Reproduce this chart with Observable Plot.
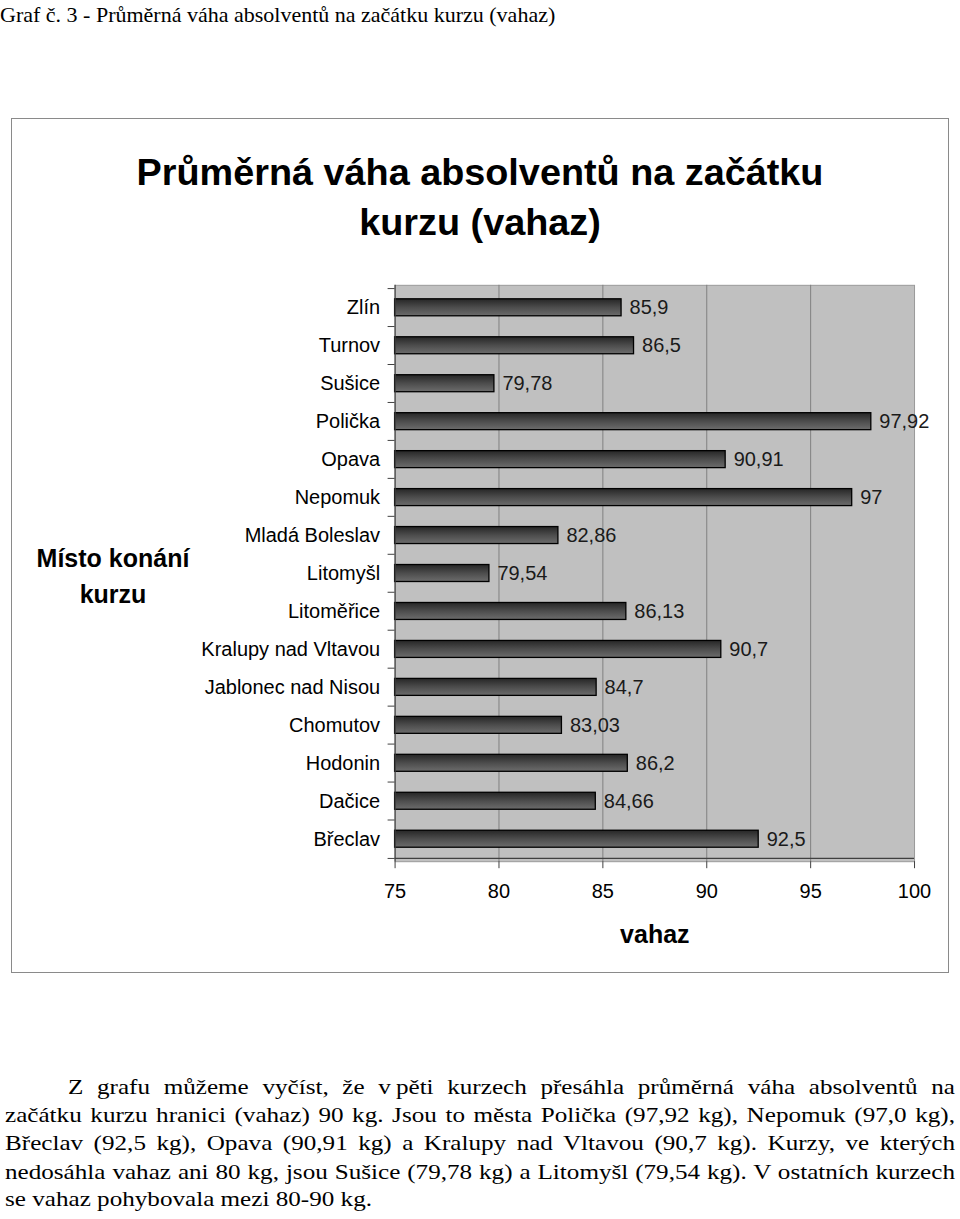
<!DOCTYPE html>
<html>
<head>
<meta charset="utf-8">
<script src="https://cdn.jsdelivr.net/npm/d3@7"></script>
<script src="https://cdn.jsdelivr.net/npm/@observablehq/plot@0.6"></script>
<style>
  html, body { margin: 0; padding: 0; background: #fff; }
  body { width: 960px; height: 1219px; position: relative; overflow: hidden; }
  #heading { position: absolute; left: 0; top: 2px; font-family: "Liberation Serif", "Times New Roman", serif; font-size: 22px; color: #000; white-space: nowrap; }
  #box { position: absolute; left: 11px; top: 118px; width: 938px; height: 855px; border: 1px solid #8a8a8a; box-sizing: border-box; }
  #chart { position: absolute; left: -1px; top: -1px; }
  #title { position: absolute; left: 0; top: 28px; width: 100%; text-align: center; font-family: "Liberation Sans", Arial, sans-serif; font-weight: bold; font-size: 37.8px; line-height: 50px; color: #000; }
  #title span { display: inline-block; width: 740px; }
  #ytitle { position: absolute; left: 16px; top: 421px; width: 170px; text-align: center; font-family: "Liberation Sans", Arial, sans-serif; font-weight: bold; font-size: 25px; line-height: 36px; color: #000; }
  #para { position: absolute; left: 0; top: 1073px; width: 960px; height: 146px; font-family: "Liberation Serif", "Times New Roman", serif; font-size: 22px; line-height: 28px; color: #000; }
  #para div { position: absolute; white-space: nowrap; text-align: justify; text-align-last: justify; transform-origin: 0 50%; }
  #para div.last { text-align: left; text-align-last: left; }
  svg text { font-family: "Liberation Sans", Arial, sans-serif; }
</style>
</head>
<body>
<div id="heading">Graf č. 3 - Průměrná váha absolventů na začátku kurzu (vahaz)</div>
<div id="box">
  <div id="chart"></div>
  <div id="title"><span>Průměrná váha absolventů na začátku kurzu (vahaz)</span></div>
  <div id="ytitle">Místo konání kurzu</div>
</div>
<div id="para">
  <div data-x="68" data-y="0"><span>Z grafu můžeme vyčíst, že v&#8239;pěti kurzech přesáhla průměrná váha absolventů na</span></div>
  <div data-x="5" data-y="27.5"><span>začátku kurzu hranici (vahaz) 90 kg. Jsou to města Polička (97,92 kg), Nepomuk (97,0 kg),</span></div>
  <div data-x="5" data-y="56"><span>Břeclav (92,5 kg), Opava (90,91 kg) a Kralupy nad Vltavou (90,7 kg). Kurzy, ve kterých</span></div>
  <div data-x="5" data-y="85"><span>nedosáhla vahaz ani 80 kg, jsou Sušice (79,78 kg) a Litomyšl (79,54 kg). V ostatních kurzech</span></div>
  <div class="last" data-x="5" data-y="112"><span>se vahaz pohybovala mezi 80-90 kg.</span></div>
</div>
<script>
const places = ["Zlín","Turnov","Sušice","Polička","Opava","Nepomuk","Mladá Boleslav","Litomyšl","Litoměřice","Kralupy nad Vltavou","Jablonec nad Nisou","Chomutov","Hodonin","Dačice","Břeclav"];
const weights = [85.9, 86.5, 79.78, 97.92, 90.91, 97, 82.86, 79.54, 86.13, 90.7, 84.7, 83.03, 86.2, 84.66, 92.5];
const xTicks = [75, 80, 85, 90, 95, 100];
const xLabel = "vahaz";

const data = places.map((p, i) => ({place: p, weight: weights[i]}));
const fmt = v => String(v).replace(".", ",");

const W = 938, H = 855;
const mL = 384, mR = 34, mT = 167, mB = 111;
const step = (H - mT - mB) / places.length;

const chart = Plot.plot({
  width: W,
  height: H,
  marginLeft: mL,
  marginRight: mR,
  marginTop: mT,
  marginBottom: mB,
  style: {fontFamily: "'Liberation Sans', Arial, sans-serif", fontSize: "20px", color: "#000", background: "transparent", overflow: "visible"},
  x: {domain: [xTicks[0], xTicks[xTicks.length - 1]]},
  y: {domain: places, paddingInner: 0.56, paddingOuter: 0.28},
  marks: [
    Plot.frame({fill: "#c0c0c0", stroke: "#9a9a9a"}),
    Plot.gridX(xTicks.slice(1, -1), {stroke: "#808080", strokeOpacity: 1}),
    Plot.barX(data, {x1: xTicks[0], x2: "weight", y: "place", fill: "url(#barGrad)", stroke: "#000", strokeWidth: 1.3}),
    Plot.text(data, {x: "weight", y: "place", text: d => fmt(d.weight), dx: 8, textAnchor: "start", fontSize: 20, fill: "#1a1a1a"}),
    Plot.ruleX([xTicks[0]], {stroke: "#404040", strokeWidth: 1.2}),
    Plot.ruleY([places[places.length - 1]], {dy: step / 2, stroke: "#404040", strokeWidth: 1.2}),
    Plot.axisY({tickSize: 0, tickPadding: 15, fontSize: 20, label: null}),
    Plot.axisY({tickSize: 7, text: null, dy: -step / 2, stroke: "#404040", label: null}),
    Plot.axisY([places[places.length - 1]], {tickSize: 7, text: null, dy: step / 2, stroke: "#404040", label: null}),
    Plot.axisX(xTicks, {tickSize: 7, tickPadding: 15, fontSize: 20, stroke: "#404040", label: xLabel, labelAnchor: "center", labelArrow: "none", labelOffset: 81, tickFormat: d => String(d)})
  ]
});

// gradient for the bars
const ns = "http://www.w3.org/2000/svg";
const defs = document.createElementNS(ns, "defs");
defs.innerHTML = '<linearGradient id="barGrad" x1="0" y1="0" x2="0" y2="1">' +
  '<stop offset="0" stop-color="#262626"/>' +
  '<stop offset="0.5" stop-color="#4c4c4c"/>' +
  '<stop offset="1" stop-color="#6c6c6c"/></linearGradient>';
chart.insertBefore(defs, chart.firstChild);

document.getElementById("chart").appendChild(chart);

// style the axis label
chart.querySelectorAll('[aria-label="x-axis label"] text, [aria-label="x-axis label"]').forEach(el => {
  el.setAttribute("font-weight", "bold");
  el.setAttribute("font-size", "25");
  el.style.fontWeight = "bold";
  el.style.fontSize = "25px";
});

// paragraph layout: lines broken as in the reference, justified to the right edge
(function layoutPara() {
  const rightEdge = 955, lastEnd = 372;
  const lines = Array.from(document.querySelectorAll("#para div"));
  const widths = lines.map(d => d.querySelector("span").getBoundingClientRect().width);
  const lastIdx = lines.length - 1;
  const s = (lastEnd - 5) / widths[lastIdx];
  lines.forEach((d, i) => {
    const x0 = +d.dataset.x, y0 = +d.dataset.y;
    d.style.left = x0 + "px";
    d.style.top = y0 + "px";
    if (i === lastIdx) {
      d.style.transform = `scaleX(${s})`;
      return;
    }
    const avail = rightEdge - x0;
    const w = widths[i];
    if (w * s <= avail) {
      d.style.width = (avail / s) + "px";
      d.style.transform = `scaleX(${s})`;
    } else {
      d.style.width = w + "px";
      d.style.transform = `scaleX(${avail / w})`;
    }
  });
})();
</script>
</body>
</html>
